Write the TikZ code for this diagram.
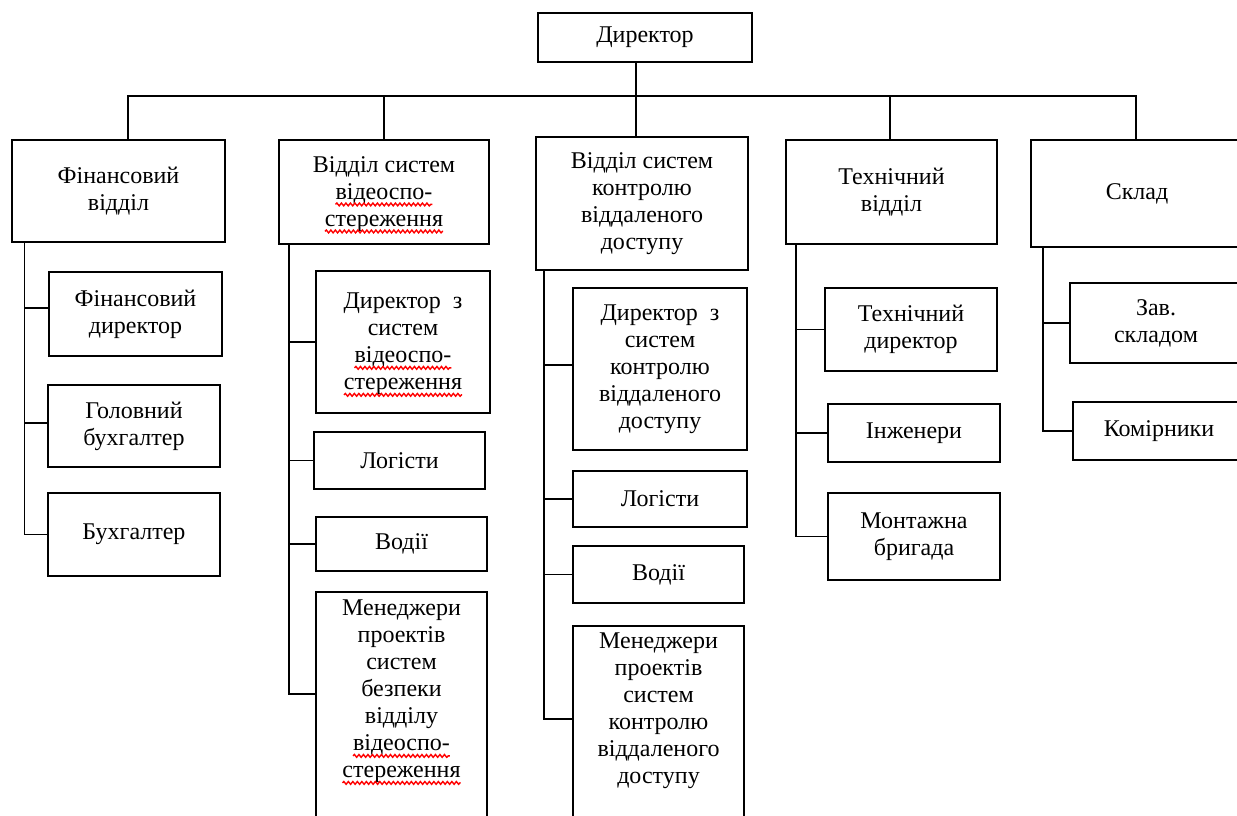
\documentclass[tikz,border=0pt]{standalone}
\usepackage{fontspec}
\setmainfont{Liberation Serif}
\usetikzlibrary{decorations.pathmorphing}
\newsavebox\wvbox
\newcommand\wv[1]{\sbox\wvbox{#1}\tikz[baseline=0pt]{\path[use as bounding box] (0pt,-1pt) rectangle (\wd\wvbox,\ht\wvbox);\pgftext[left,base]{\usebox\wvbox}\draw[red,line width=1.4pt,decorate,decoration={snake,amplitude=1.4pt,segment length=4.5pt}] (0pt,-5pt) -- (\wd\wvbox,-5pt);}}
\begin{document}
\begin{tikzpicture}[x=1pt,y=-1pt,
  box/.style={draw,line width=1.8pt,inner sep=0pt,align=center,font=\fontsize{24}{27}\selectfont},
  txt/.style={inner sep=0pt,align=center,font=\fontsize{24}{27}\selectfont},
  link/.style={line width=1.8pt}]
\path[use as bounding box] (0,0) rectangle (1237,816);
\clip (0,0) rectangle (1237,816);
% top
\node[box,minimum width=214,minimum height=49] (dir) at (645,37.5) {Директор};
% level 1
\node[box,minimum width=213,minimum height=102] (f) at (118.5,191) {Фінансовий\\відділ};
\node[box,minimum width=210,minimum height=104] (v) at (384,192) {Відділ систем\\\wv{відеоспо-}\\\wv{стереження}};
\node[box,minimum width=212,minimum height=133] (k) at (642,203.5) {Відділ систем\\контролю\\віддаленого\\доступу};
\node[box,minimum width=211,minimum height=104] (t) at (891.5,192) {Технічний\\відділ};
\node[box,minimum width=212,minimum height=107] (s) at (1137,193.5) {Склад};
% bus
\coordinate (bus) at (0,96);
\draw[link] ([xshift=9.5]f.north) -- ([xshift=9.5]f.north |- bus) -- ([xshift=-1]s.north |- bus) -- ([xshift=-1]s.north);
\draw[link] (v.north) -- (v.north |- bus);
\draw[link] ([xshift=-9]dir.south) -- ([xshift=-9]dir.south |- k.north);
\draw[link] ([xshift=-1.5]t.north) -- ([xshift=-1.5]t.north |- bus);
% column 1
\node[box,minimum width=173,minimum height=84] (f1) at (135.5,314) {Фінансовий\\директор};
\node[box,minimum width=172,minimum height=82] (f2) at (134,426) {Головний\\бухгалтер};
\node[box,minimum width=172,minimum height=83] (f3) at (134,534.5) {Бухгалтер};
\coordinate (tf) at ([xshift=-94]f.south);
\coordinate (f1c) at ([yshift=6]f1.west);
\coordinate (f2c) at ([yshift=3]f2.west);
\draw[link] (tf) |- (f3.west);
\draw[link] (f1c) -- (f1c -| tf);
\draw[link] (f2c) -- (f2c -| tf);
% column 2
\node[box,minimum width=174,minimum height=142] (v1) at (403,342) {Директор\enspace з\\систем\\\wv{відеоспо-}\\\wv{стереження}};
\node[box,minimum width=171,minimum height=57] (v2) at (399.5,460.5) {Логісти};
\node[box,minimum width=171,minimum height=54] (v3) at (401.5,544) {Водії};
\node[box,minimum width=171,minimum height=260,anchor=north] (v4) at (401.5,591) {};
\node[txt,anchor=north] (v4t) at ([yshift=-9]v4.north) {Менеджери\\проектів\\систем\\безпеки\\відділу\\\wv{відеоспо-}\\\wv{стереження}};
\coordinate (tv) at ([xshift=-95]v.south);
\coordinate (v4c) at ([yshift=-103]v4.north west);
\draw[link] (tv) |- (v4c);
\draw[link] (v1.west) -- (v1.west -| tv);
\draw[link] (v2.west) -- (v2.west -| tv);
\draw[link] (v3.west) -- (v3.west -| tv);
% column 3
\node[box,minimum width=174,minimum height=162] (k1) at (660,369) {Директор\enspace з\\систем\\контролю\\віддаленого\\доступу};
\node[box,minimum width=174,minimum height=56] (k2) at (660,499) {Логісти};
\node[box,minimum width=171,minimum height=57] (k3) at (658.5,574.5) {Водії};
\node[box,minimum width=171,minimum height=230,anchor=north] (k4) at (658.5,625) {};
\node[txt,anchor=north] (k4t) at ([yshift=-8]k4.north) {Менеджери\\проектів\\систем\\контролю\\віддаленого\\доступу};
\coordinate (tk) at ([xshift=-98]k.south);
\coordinate (k4c) at ([yshift=-94]k4.north west);
\coordinate (k1c) at ([yshift=4]k1.west);
\draw[link] (tk) |- (k4c);
\draw[link] (k1c) -- (k1c -| tk);
\draw[link] (k2.west) -- (k2.west -| tk);
\draw[link] (k3.west) -- (k3.west -| tk);
% column 4
\node[box,minimum width=172,minimum height=83] (t1) at (911,329.5) {Технічний\\директор};
\node[box,minimum width=172,minimum height=58] (t2) at (914,433) {Інженери};
\node[box,minimum width=172,minimum height=87] (t3) at (914,536.5) {Монтажна\\бригада};
\coordinate (tt) at ([xshift=-95.5]t.south);
\draw[link] (tt) |- (t3.west);
\draw[link] (t1.west) -- (t1.west -| tt);
\draw[link] (t2.west) -- (t2.west -| tt);
% column 5
\node[box,minimum width=172,minimum height=80] (s1) at (1156,323) {Зав.\\складом};
\node[box,minimum width=172,minimum height=58] (s2) at (1159,431) {Комірники};
\coordinate (ts) at ([xshift=-94]s.south);
\draw[link] (ts) |- (s2.west);
\draw[link] (s1.west) -- (s1.west -| ts);
\end{tikzpicture}
\end{document}
